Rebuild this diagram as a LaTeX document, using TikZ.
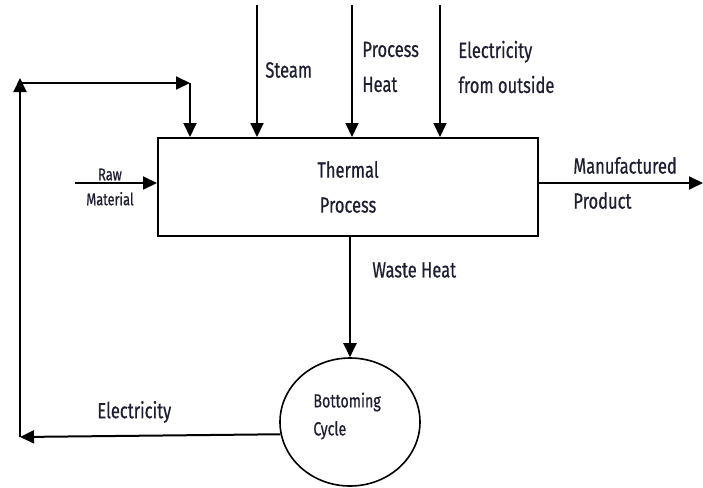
\documentclass[tikz,border=0pt]{standalone}
\usepackage{fontspec}
\setmainfont{Fira Sans}[FakeStretch=0.75,FakeBold=0.6]
\usetikzlibrary{arrows.meta,shapes.geometric}
\definecolor{labelc}{RGB}{30,30,50}
\begin{document}
\begin{tikzpicture}[
        x=0.5pt, y=-0.5pt,
        flow/.style={draw, line width=1pt, -{Triangle[width=6.5pt,length=7pt]}},
        procbox/.style={draw, line width=1pt, minimum width=190pt, minimum height=49pt,
            align=center, text=labelc, font=\fontsize{11}{17.5}\selectfont},
        cyclenode/.style={draw, ellipse, line width=0.8pt, minimum width=70pt, minimum height=64pt},
        lbl/.style={anchor=west, inner sep=0pt, align=left, text=labelc, font=\fontsize{11}{17.5}\selectfont},
        smalllbl/.style={inner sep=0pt, align=center, text=labelc, font=\fontsize{8.5}{12.5}\selectfont},
    ]
    \useasboundingbox (0,0) rectangle (703,488);

    \node[procbox] (proc) at (348,187) {Thermal\\Process};
    \node[cyclenode] (bc) at (350,422) {};

    \coordinate (steamin) at (257,5);
    \coordinate (heatin) at (352,5);
    \coordinate (elecin) at (440,5);
    \coordinate (rawin) at (75,183);
    \coordinate (prodout) at (703,183);
    \coordinate (fbl) at (20,437);
    \coordinate (fbt) at (20,78);
    \coordinate (fbc) at (20,83);
    \coordinate (fbr) at (190,83);

    \draw[flow] (steamin) -- (steamin |- proc.north);
    \draw[flow] (heatin) -- (heatin |- proc.north);
    \draw[flow] (elecin) -- (elecin |- proc.north);
    \draw[flow] (rawin) -- (rawin -| proc.west);
    \draw[flow] (prodout -| proc.east) -- (prodout);
    \draw[flow] (proc.south -| bc.north) -- (bc.north);

    \draw[flow] (bc.190) -- (fbl);
    \draw[flow] (fbl) -- (fbt);
    \draw[flow] (fbc) -- (fbr);
    \draw[flow] (fbr) -- (fbr |- proc.north);

    \node[lbl] (steam) at (265,70) {Steam};
    \node[lbl] (pheat) at (362,67) {Process\\Heat};
    \node[lbl] (elec) at (458,67) {Electricity\\from outside};
    \node[smalllbl] (raw) at (110,187) {Raw\\Material};
    \node[lbl] (prod) at (573,183) {Manufactured\\Product};
    \node[lbl] (waste) at (372,270) {Waste Heat};
    \node[lbl] (elecback) at (97,412) {Electricity};
    \node[lbl, font=\fontsize{9.5}{14}\selectfont] (bclbl) at (313,416) {Bottoming\\Cycle};
\end{tikzpicture}
\end{document}
